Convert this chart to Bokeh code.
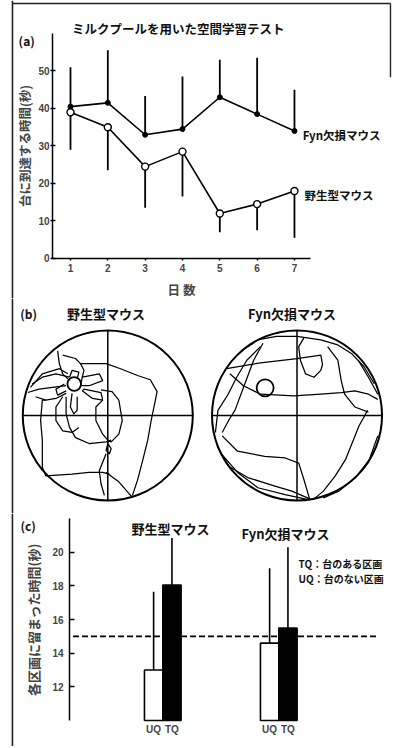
from bokeh.plotting import figure
from bokeh.models import Range1d, Label, Span, FixedTicker, CustomJSTickFormatter, LinearAxis
from bokeh.layouts import column
from bokeh.embed import file_html
from bokeh.resources import INLINE

JP = "Noto Sans CJK JP"
NUM = "Liberation Sans"

# ---------------- (a) data ----------------
days = [1, 2, 3, 4, 5, 6, 7]
fyn_time = [40.5, 41.5, 33.0, 34.5, 43.0, 38.5, 34.0]
fyn_err = [10.5, 14.0, 10.3, 14.0, 10.0, 15.0, 11.0]
wt_time = [39.0, 35.0, 24.5, 28.5, 12.0, 14.5, 18.0]
wt_err = [10.0, 11.5, 11.0, 12.0, 5.0, 7.0, 12.5]
y_ticks_a = [0, 10, 20, 30, 40, 50]
title_a = "ミルクプールを用いた空間学習テスト"
ylabel_a = "台に到達する時間(秒)"
xlabel_a = "日 数"
name_fyn = "Fyn欠損マウス"
name_wt = "野生型マウス"

# ---------------- (b) swim paths (unit circle, 1/100 radius) ----------------
wt_paths = [
    [(-32, 61), (-2, 61), (15, 55), (35, 47), (50, 42), (58, 28), (56, 18), (51, -6), (47, -29),
     (41, -53), (35, -76), (29, -94)],
    [(-53, 71), (-38, 67), (-32, 61), (-28, 53), (-30, 45)],
    [(-59, 76), (-57, 61), (-53, 49), (-45, 41)],
    [(-89, 37), (-77, 45), (-61, 49), (-45, 45)],
    [(-94, 27), (-81, 31), (-65, 33), (-49, 35)],
    [(-85, 22), (-73, 18), (-61, 20), (-49, 26)],
    [(-91, 33), (-77, 49), (-57, 55), (-47, 49)],
    [(-32, 35), (-30, 45), (-10, 49), (-6, 41), (-22, 35), (-32, 35)],
    [(-30, 29), (-28, 31), (-8, 27), (-6, 18), (-18, 20), (-30, 29)],
    [(-42, 26), (-44, 10), (-40, 2), (-36, 6), (-36, 22)],
    [(-49, 29), (-59, 24), (-61, 31), (-51, 37)],
    [(-45, 45), (-42, 53), (-34, 51), (-36, 43)],
    [(-6, 18), (-14, 10), (-14, -6), (-6, -22), (0, -29), (4, -31), (13, -22), (17, -6), (13, 18),
     (5, 28), (-8, 30)],
    [(-53, 22), (-61, 10), (-61, -6), (-53, -18), (-42, -20), (-34, -14)],
    [(-49, 22), (-49, 2), (-45, -14), (-38, -26), (-22, -33), (-2, -31), (4, -29)],
    [(0, -29), (0, -33), (4, -39), (2, -45), (-2, -41), (0, -33)],
    [(-2, -45), (-6, -55), (-10, -65), (-8, -80), (-4, -94)],
    [(-73, 18), (-77, 18), (-79, -6), (-77, -29), (-77, -61), (-73, -71), (-42, -69), (-22, -67),
     (-6, -67), (2, -69)],
    [(-2, -67), (13, -78), (25, -92), (29, -96)],
]
fyn_paths = [
    [(-83, 55), (-43, 62), (0, 67), (28, 71), (30, 60), (28, 53), (20, 45), (10, 49), (4, 65),
     (2, 81), (8, 91)],
    [(-47, 89), (-24, 93), (0, 93), (28, 89), (48, 83), (64, 73), (79, 57), (91, 37)],
    [(36, 81), (48, 65), (52, 41), (56, 25), (68, 10), (84, 4)],
    [(72, 65), (84, 45), (95, 25)],
    [(-79, 49), (-63, 35), (-43, 25), (-4, 23), (28, 25), (52, 27), (68, 29), (84, 25), (95, 19)],
    [(-88, -20), (-80, -5), (-73, 6), (-63, 33), (-51, 65), (-40, 85)],
    [(-96, -20), (-93, 6), (-81, 25), (-71, 45), (-59, 65), (-43, 81)],
    [(83, 6), (73, -12), (65, -32), (57, -52), (45, -71), (31, -89), (19, -99)],
    [(-88, -24), (-70, -42), (-38, -48), (-14, -50), (2, -56), (8, -75), (15, -99)],
    [(-94, -36), (-80, -60), (-58, -73), (-26, -83), (-6, -89), (17, -99)],
    [(-90, -44), (-70, -67), (-46, -85), (-14, -93), (13, -99)],
    [(95, -24), (85, -52), (69, -73), (49, -89), (31, -97)],
]
platform_wt = (-39.5, 37, 8)
platform_fyn = (-37.5, 32.5, 10)

# ---------------- (c) data ----------------
groups = [name_wt, name_fyn]
quadrants = ["UQ", "TQ"]
uq_time = [13.0, 14.6]
tq_time = [18.05, 15.5]
uq_err = [4.65, 4.45]
tq_err = [2.8, 4.8]
chance_level = 15
y_ticks_c = [12, 14, 16, 18, 20]
ylabel_c = "各区画に留まった時間(秒)"
legend_c = ["TQ：台のある区画", "UQ：台のない区画"]

W = 393
EDGE = "#222222"


def style_axis(ax, size="10px"):
    ax.major_label_text_font = NUM
    ax.major_label_text_font_style = "bold"
    ax.major_label_text_font_size = size
    ax.axis_label_text_font = JP
    ax.axis_label_text_font_style = "bold"
    ax.axis_label_text_font_size = "12.5px"
    ax.axis_line_width = 1.5
    ax.major_tick_line_width = 1.5
    ax.minor_tick_line_color = None


def label(p, x, y, text, size, align="left", baseline="middle"):
    p.add_layout(Label(x=x, y=y, text=text, text_font=JP, text_font_style="bold",
                       text_font_size=size, text_align=align, text_baseline=baseline,
                       text_color="#111111"))


def base_fig(h, xr, yr):
    p = figure(width=W, height=h, x_range=Range1d(*xr), y_range=Range1d(*yr),
               output_backend="svg", toolbar_location=None, min_border=0,
               x_axis_location=None, y_axis_location=None)
    p.outline_line_color = None
    p.grid.visible = False
    p.background_fill_color = None
    p.border_fill_color = None
    return p


# ================= Panel (a) =================
pa = base_fig(298, (-0.875, 9.653), (-10.67, 68.8))
pa.add_layout(Span(location=-0.554, dimension="height", line_color=EDGE, line_width=1.6))
pa.line(x=[-0.554, 9.572], y=[68.0, 68.0], line_color=EDGE, line_width=1.4)
pa.line(x=[9.572, 9.572], y=[68.0, 48.3], line_color=EDGE, line_width=1.4)

fyn_hi = [m + e for m, e in zip(fyn_time, fyn_err)]
wt_lo = [m - e for m, e in zip(wt_time, wt_err)]
pa.segment(x0=days, y0=fyn_time, x1=days, y1=fyn_hi, line_color="black", line_width=1.8)
pa.segment(x0=days, y0=wt_time, x1=days, y1=wt_lo, line_color="black", line_width=1.8)
pa.line(days, fyn_time, line_color="black", line_width=1.6)
pa.line(days, wt_time, line_color="black", line_width=1.6)
pa.scatter(days, fyn_time, size=5, marker="circle", fill_color="black", line_color="black")
pa.scatter(days, wt_time, size=7, marker="circle", fill_color="white", line_color="black",
           line_width=1.4)

xa = LinearAxis(fixed_location=0, bounds=(0.518, 7.43), ticker=FixedTicker(ticks=days),
                axis_label=xlabel_a)
ya = LinearAxis(fixed_location=0.518, bounds=(0, 60), ticker=FixedTicker(ticks=y_ticks_a),
                axis_label=ylabel_a)
pa.add_layout(xa, "below")
pa.add_layout(ya, "left")
for ax in (xa, ya):
    style_axis(ax)
xa.major_tick_in = 0
xa.major_tick_out = 2
xa.major_label_standoff = 4
xa.axis_label_standoff = 4
ya.major_tick_in = 3
ya.major_tick_out = 2
ya.major_label_standoff = 1
ya.axis_label_standoff = 1

label(pa, 3.89, 61.4, title_a, "12.5px", align="center")
label(pa, -0.39, 58.1, "(a)", "12px")
label(pa, 7.22, 32.8, name_fyn, "11.5px")
label(pa, 7.27, 16.8, name_wt, "11.5px")

# ================= Panel (b) =================
R = 100.0
centers_x = [0.0, 2.226]
pb = base_fig(215, (-1.262, 3.361), (-1.153, 1.376))
pb.add_layout(Span(location=-1.121, dimension="height", line_color=EDGE, line_width=1.6))

pb.circle(x=centers_x, y=[0, 0], radius=1, fill_color=None, line_color="black", line_width=2)
pb.segment(x0=[c - 1 for c in centers_x], y0=[0, 0], x1=[c + 1 for c in centers_x], y1=[0, 0],
           line_color="black", line_width=1.5)
pb.segment(x0=centers_x, y0=[-1, -1], x1=centers_x, y1=[1, 1], line_color="black", line_width=1.5)

for cx, paths in zip(centers_x, [wt_paths, fyn_paths]):
    xs = [[cx + p[0] / R for p in path] for path in paths]
    ys = [[p[1] / R for p in path] for path in paths]
    pb.multi_line(xs=xs, ys=ys, line_color="black", line_width=1.25, line_join="round")

pb.circle(x=[centers_x[0] + platform_wt[0] / R, centers_x[1] + platform_fyn[0] / R],
          y=[platform_wt[1] / R, platform_fyn[1] / R],
          radius=[platform_wt[2] / R, platform_fyn[2] / R],
          fill_color=None, line_color="black", line_width=1.8)

label(pb, -1.03, 1.2, "(b)", "12px")
label(pb, -0.02, 1.2, name_wt, "13px", align="center")
label(pb, 2.167, 1.2, name_fyn, "13px", align="center")

# ================= Panel (c) =================
bw = 0.158
axis_x_c = -0.804
pc = base_fig(233, (-1.399, 1.989), (8.455, 22.30))
pc.add_layout(Span(location=-1.296, dimension="height", line_color=EDGE, line_width=1.6))

gx = list(range(len(groups)))
uq_x = [g - bw / 2 for g in gx]
tq_x = [g + bw / 2 for g in gx]
pc.segment(x0=uq_x, y0=uq_time, x1=uq_x, y1=[m + e for m, e in zip(uq_time, uq_err)],
           line_color="black", line_width=1.6)
pc.segment(x0=tq_x, y0=tq_time, x1=tq_x, y1=[m + e for m, e in zip(tq_time, tq_err)],
           line_color="black", line_width=1.6)
pc.line(x=[axis_x_c + 0.03, 1.85], y=[chance_level, chance_level], line_color="black",
        line_width=1.6, line_dash="6 3")
pc.vbar(x=uq_x, top=uq_time, bottom=10, width=bw, fill_color="white", line_color="black",
        line_width=1.6)
pc.vbar(x=tq_x, top=tq_time, bottom=10, width=bw, fill_color="black", line_color="black",
        line_width=1.6)

tick_pos = sorted(uq_x + tq_x)
tick_text = quadrants * len(groups)
xc = LinearAxis(fixed_location=10, ticker=FixedTicker(ticks=tick_pos),
                formatter=CustomJSTickFormatter(args=dict(labels=tick_text),
                                                code="return labels[index]"))
yc = LinearAxis(fixed_location=axis_x_c, bounds=(10, 22), ticker=FixedTicker(ticks=y_ticks_c),
                axis_label=ylabel_c)
pc.add_layout(xc, "below")
pc.add_layout(yc, "left")
for ax in (xc, yc):
    style_axis(ax)
xc.axis_line_color = None
xc.major_tick_line_color = None
xc.major_tick_in = 0
xc.major_tick_out = 0
xc.major_label_standoff = 4
xc.major_label_text_font_size = "10px"
yc.major_tick_in = 5
yc.major_tick_out = 0
yc.major_label_standoff = 6
yc.axis_label_standoff = 6
yc.axis_label_text_font_size = "13px"

label(pc, -1.227, 21.58, "(c)", "12px")
label(pc, 0.066, 21.4, name_wt, "13px", align="center")
label(pc, 1.058, 21.1, name_fyn, "13px", align="center")
label(pc, 1.17, 19.33, legend_c[0], "10px")
label(pc, 1.17, 18.43, legend_c[1], "10px")

layout = column(pa, pb, pc, spacing=0)

open("out.html", "w").write(file_html(layout, INLINE))
